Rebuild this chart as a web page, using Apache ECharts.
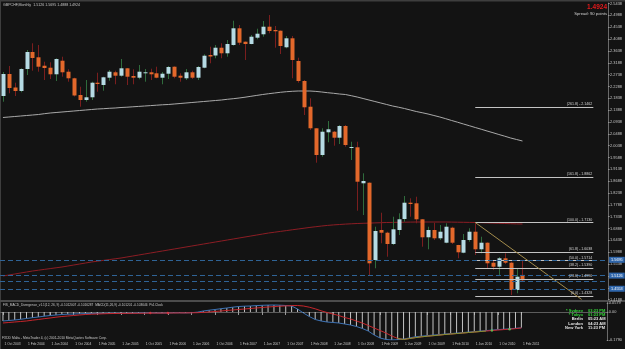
<!DOCTYPE html>
<html>
<head>
<meta charset="utf-8">
<title>GBPCHF,Monthly</title>
<script src="https://cdn.jsdelivr.net/npm/echarts@6/dist/echarts.min.js"></script>
<style>
  html, body { margin: 0; padding: 0; background: #131313; }
  #main { width: 625px; height: 349px; }
</style>
</head>
<body>
<div id="main"></div>
<script type="text/javascript">
// monthly bars, first bar = 1 Oct 2003, empty slots after the last bar (chart shift)
var monthNames = ['Jan', 'Feb', 'Mar', 'Apr', 'May', 'Jun', 'Jul', 'Aug', 'Sep', 'Oct', 'Nov', 'Dec'];
var slotCount = 103;
var categories = [];
for (var k = 0; k < slotCount; k++) {
    var m = 9 + k;
    categories.push('1 ' + monthNames[m % 12] + ' ' + (2003 + Math.floor(m / 12)));
}

// open, high, low, close
var ohlc = [
    [2.1925, 2.2837, 2.1708, 2.2761], [2.2761, 2.3065, 2.2028, 2.2229], [2.2248, 2.2430, 2.1925, 2.2115],
    [2.2115, 2.2978, 2.2066, 2.2951], [2.2951, 2.3673, 2.2723, 2.3597], [2.3597, 2.3928, 2.2886, 2.3369],
    [2.3396, 2.3863, 2.2848, 2.3038], [2.3076, 2.3228, 2.2533, 2.2989], [2.3000, 2.3206, 2.2571, 2.2750],
    [2.2750, 2.3358, 2.2495, 2.3331], [2.3266, 2.3418, 2.2658, 2.2826], [2.2848, 2.2940, 2.2468, 2.2598],
    [2.2598, 2.2620, 2.1906, 2.1944], [2.1963, 2.2278, 2.1518, 2.1773], [2.1773, 2.2533, 2.1708, 2.1876],
    [2.1876, 2.2468, 2.1773, 2.2430], [2.2430, 2.2810, 2.2088, 2.2381], [2.2343, 2.2658, 2.2126, 2.2636],
    [2.2620, 2.2913, 2.2506, 2.2848], [2.2826, 2.2886, 2.2370, 2.2696], [2.2696, 2.3331, 2.2658, 2.2978],
    [2.2978, 2.2989, 2.2343, 2.2658], [2.2685, 2.2940, 2.2370, 2.2620], [2.2620, 2.3103, 2.2560, 2.2848],
    [2.2788, 2.2951, 2.2468, 2.2826], [2.2826, 2.2962, 2.2533, 2.2750], [2.2788, 2.3038, 2.2598, 2.2620],
    [2.2620, 2.2837, 2.2370, 2.2772], [2.2772, 2.3065, 2.2571, 2.3027], [2.3038, 2.3050, 2.2598, 2.2658],
    [2.2696, 2.2788, 2.2468, 2.2620], [2.2598, 2.2951, 2.2533, 2.2826], [2.2826, 2.2886, 2.2571, 2.2620],
    [2.2620, 2.3065, 2.2533, 2.3027], [2.3000, 2.3510, 2.2978, 2.3456], [2.3483, 2.3798, 2.3168, 2.3426],
    [2.3464, 2.3863, 2.3358, 2.3760], [2.3760, 2.3928, 2.3358, 2.3548], [2.3548, 2.4053, 2.3418, 2.3901],
    [2.3863, 2.4786, 2.3836, 2.4498], [2.4498, 2.4623, 2.3863, 2.3950], [2.3988, 2.3996, 2.3293, 2.3901],
    [2.3901, 2.4243, 2.3890, 2.4178], [2.4140, 2.4482, 2.4080, 2.4292], [2.4270, 2.4775, 2.4178, 2.4558],
    [2.4558, 2.5003, 2.4308, 2.4395], [2.4433, 2.4585, 2.3760, 2.4384], [2.4406, 2.4415, 2.3521, 2.3825],
    [2.3776, 2.4205, 2.3738, 2.4118], [2.4118, 2.4205, 2.2598, 2.3293], [2.3255, 2.3380, 2.2430, 2.2495],
    [2.2495, 2.2533, 2.1203, 2.1496], [2.1518, 2.1838, 2.0633, 2.0698], [2.0698, 2.0705, 1.9390, 1.9683],
    [1.9683, 2.0698, 1.9618, 2.0568], [2.0546, 2.0975, 2.0166, 2.0660], [2.0568, 2.0595, 2.0036, 2.0340],
    [2.0340, 2.0823, 2.0101, 2.0785], [2.0785, 2.0823, 1.9998, 2.0063], [1.9960, 2.0188, 1.9493, 1.9987],
    [1.9976, 2.0188, 1.7566, 1.8668], [1.8608, 1.8988, 1.7403, 1.8695], [1.8630, 1.8640, 1.5123, 1.5568],
    [1.5693, 1.6958, 1.5378, 1.6795], [1.6833, 1.7490, 1.6328, 1.6730], [1.6730, 1.6768, 1.5818, 1.6301],
    [1.6301, 1.7338, 1.6263, 1.6860], [1.6833, 1.7468, 1.6643, 1.7240], [1.7251, 1.8125, 1.7148, 1.7870],
    [1.7870, 1.8038, 1.7338, 1.7821], [1.7848, 1.8098, 1.7088, 1.7240], [1.7240, 1.7251, 1.6198, 1.6556],
    [1.6556, 1.6958, 1.6100, 1.6833], [1.6833, 1.7110, 1.6453, 1.6518], [1.6518, 1.7023, 1.6453, 1.6768],
    [1.6350, 1.7088, 1.6328, 1.6958], [1.6920, 1.6958, 1.6301, 1.6350], [1.6263, 1.6270, 1.5758, 1.5986],
    [1.5970, 1.6681, 1.5948, 1.6453], [1.6453, 1.6898, 1.6388, 1.6768], [1.6768, 1.7088, 1.5883, 1.6100],
    [1.6100, 1.6578, 1.5948, 1.6350], [1.6350, 1.6360, 1.5389, 1.5568], [1.5590, 1.5693, 1.5313, 1.5438],
    [1.5438, 1.5807, 1.5085, 1.5758], [1.5758, 1.5948, 1.5541, 1.5590], [1.5590, 1.5628, 1.4363, 1.4553],
    [1.4553, 1.5378, 1.4428, 1.5058], [1.5126, 1.5695, 1.4888, 1.4924]
];

// moving averages
var maGrey = [
    2.1108, 2.1127, 2.1146, 2.1165, 2.1184, 2.1203, 2.1222, 2.1252, 2.1279, 2.1298,
    2.1317, 2.1336, 2.1355, 2.1374, 2.1393, 2.1412, 2.1431, 2.1442, 2.1458, 2.1469,
    2.1488, 2.1499, 2.1515, 2.1530, 2.1545, 2.1560, 2.1575, 2.1591, 2.1602, 2.1621,
    2.1640, 2.1659, 2.1678, 2.1697, 2.1716, 2.1735, 2.1754, 2.1773, 2.1800, 2.1822,
    2.1849, 2.1879, 2.1914, 2.1948, 2.1982, 2.2012, 2.2039, 2.2066, 2.2088, 2.2104,
    2.2115, 2.2115, 2.2115, 2.2100, 2.2077, 2.2050, 2.2028, 2.2001, 2.1982, 2.1936,
    2.1887, 2.1830, 2.1773, 2.1716, 2.1659, 2.1602, 2.1545, 2.1499, 2.1450, 2.1393,
    2.1336, 2.1290, 2.1241, 2.1184, 2.1127, 2.1062, 2.0994, 2.0929, 2.0861, 2.0796,
    2.0728, 2.0663, 2.0595, 2.0530, 2.0462, 2.0397, 2.0329, 2.0272, 2.0215
];
var maRed = [
    1.5085, 1.5123, 1.5161, 1.5199, 1.5237, 1.5275, 1.5305, 1.5336, 1.5366, 1.5397,
    1.5427, 1.5465, 1.5503, 1.5541, 1.5579, 1.5617, 1.5647, 1.5678, 1.5708, 1.5739,
    1.5769, 1.5807, 1.5845, 1.5883, 1.5921, 1.5959, 1.5997, 1.6035, 1.6073, 1.6111,
    1.6149, 1.6187, 1.6225, 1.6263, 1.6301, 1.6339, 1.6377, 1.6415, 1.6453, 1.6491,
    1.6529, 1.6567, 1.6605, 1.6643, 1.6681, 1.6719, 1.6749, 1.6780, 1.6810, 1.6841,
    1.6871, 1.6901, 1.6932, 1.6958, 1.6985, 1.7008, 1.7027, 1.7042, 1.7057, 1.7069,
    1.7080, 1.7088, 1.7095, 1.7103, 1.7110, 1.7118, 1.7122, 1.7126, 1.7129, 1.7133,
    1.7137, 1.7137, 1.7137, 1.7137, 1.7137, 1.7137, 1.7133, 1.7129, 1.7126, 1.7122,
    1.7118, 1.7110, 1.7103, 1.7095, 1.7088, 1.7080, 1.7072, 1.7065, 1.7061
];

// MACD sub window
var macdMain = [
    -0.0575, -0.0543, -0.0511, -0.0466, -0.0415, -0.0364, -0.0320, -0.0268, -0.0224, -0.0192,
    -0.0160, -0.0141, -0.0128, -0.0115, -0.0102, -0.0096, -0.0089, -0.0083, -0.0077, -0.0077,
    -0.0083, -0.0083, -0.0077, -0.0064, -0.0058, -0.0058, -0.0064, -0.0070, -0.0064, -0.0051,
    -0.0051, -0.0058, -0.0045, -0.0013, 0.0064, 0.0115, 0.0160, 0.0211, 0.0256, 0.0307,
    0.0351, 0.0371, 0.0383, 0.0409, 0.0428, 0.0441, 0.0447, 0.0435, 0.0415, 0.0383,
    0.0192, -0.0064, -0.0288, -0.0479, -0.0575, -0.0639, -0.0671, -0.0703, -0.0767, -0.0831,
    -0.0927, -0.1054, -0.1214, -0.1470, -0.1661, -0.1757, -0.1789, -0.1770, -0.1725, -0.1661,
    -0.1585, -0.1546, -0.1508, -0.1476, -0.1444, -0.1412, -0.1380, -0.1348, -0.1316, -0.1284,
    -0.1252, -0.1220, -0.1189, -0.1157, -0.1125, -0.1099, -0.1074, -0.1042, -0.1012
];
var macdSignal = [
    -0.0703, -0.0671, -0.0639, -0.0607, -0.0575, -0.0524, -0.0479, -0.0428, -0.0383, -0.0332,
    -0.0288, -0.0256, -0.0224, -0.0192, -0.0160, -0.0141, -0.0128, -0.0115, -0.0102, -0.0096,
    -0.0089, -0.0089, -0.0083, -0.0083, -0.0077, -0.0070, -0.0070, -0.0070, -0.0064, -0.0064,
    -0.0058, -0.0058, -0.0051, -0.0045, -0.0026, 0.0000, 0.0032, 0.0064, 0.0096, 0.0128,
    0.0160, 0.0192, 0.0224, 0.0256, 0.0288, 0.0320, 0.0345, 0.0371, 0.0390, 0.0409,
    0.0415, 0.0383, 0.0307, 0.0204, 0.0077, -0.0032, -0.0128, -0.0224, -0.0351, -0.0447,
    -0.0575, -0.0703, -0.0863, -0.1022, -0.1182, -0.1342, -0.1534, -0.1693, -0.1757, -0.1700,
    -0.1640, -0.1590, -0.1550, -0.1515, -0.1480, -0.1440, -0.1410, -0.1378, -0.1346, -0.1313,
    -0.1281, -0.1249, -0.1217, -0.1185, -0.1153, -0.1125, -0.1098, -0.1066, -0.1016
];
var divergenceFrom = 67, divergenceTo = 82;
var redMarks = [25, 28];
var greenMarks = [83, 86];

// axis labels
var priceTicks = [1.4188, 1.4638, 1.5088, 1.5538, 1.5988, 1.6438, 1.6888, 1.7338, 1.7788, 1.8238,
    1.8688, 1.9138, 1.9588, 2.0038, 2.0488, 2.0938, 2.1388, 2.1838, 2.2288, 2.2738,
    2.3188, 2.3638, 2.4088, 2.4538, 2.4988, 2.5438];
var macdTicks = [-0.179, 0, 0.0579];

// fibonacci levels
var fibPrices = [1.4325, 1.4971, 1.5378, 1.5666, 1.5986, 1.7118, 1.8847, 2.1507];
var fibLabels = ['(0.0) - 1.4328', '(23.6) - 1.4990', '(38.2) - 1.5390', '(50.0) - 1.5714',
    '(61.8) - 1.6038', '(100.0) - 1.7130', '(161.8) - 1.8862', '(261.8) - 2.1462'];
var fibFrom = 80, fibTo = 100;
var trendFrom = [80, 1.7118], trendTo = [98, 1.4196];

var levelPrices = [1.5695, 1.5126, 1.4888, 1.4553];
var levelBoxes = [true, true, false, true];
var lastPrice = 1.4924;

var titleText = 'GBPCHF,Monthly  1.5126 1.5695 1.4888 1.4924';
var macdText = 'FIS_MACD_Divergence_v1.1(12, 26, 9) -0.1012007 -0.1016287  MACD(11,26,9) -0.101201 -0.103646  Pt4.Clock';
var brokerText = 'FXDD Malta - MetaTrader 4, (c) 2001-2010 MetaQuotes Software Corp.';
var clockNames = ['* Sydney', '* Tokyo', 'Berlin', 'London', 'New York'];
var clockTimes = ['03:23 PM', '01:23 PM', '05:23 AM', '04:23 AM', '11:23 PM'];
var clockGreen = [true, true, false, false, false];

var FONT = 'Liberation Sans, Arial, sans-serif';
var myChart = echarts.init(document.getElementById('main'));

function renderCandle(params, api) {
    var i = api.value(0);
    var o = api.value(1), h = api.value(2), l = api.value(3), c = api.value(4);
    var up = c >= o;
    var top = api.coord([i, Math.max(o, c)]);
    var bot = api.coord([i, Math.min(o, c)]);
    var hi = api.coord([i, h]);
    var lo = api.coord([i, l]);
    var x = Math.round(top[0]);
    var bh = Math.max(1, bot[1] - top[1]);
    return {
        type: 'group',
        children: [
            { type: 'line', shape: { x1: x + 0.5, y1: hi[1], x2: x + 0.5, y2: lo[1] },
              style: { stroke: up ? '#2f6b3c' : '#7a1e1e', lineWidth: 1 } },
            { type: 'rect', shape: { x: x - 1.5, y: top[1], width: 4, height: bh },
              style: { fill: up ? '#b6dbe4' : '#e3682b' } }
        ]
    };
}

var candleData = ohlc.map(function (r, i) { return [i, r[0], r[1], r[2], r[3]]; });

var markData = [];
fibPrices.forEach(function (p, j) {
    markData.push([
        { coord: [categories[fibFrom], p],
          lineStyle: { color: '#c4c4c4', width: 1, type: 'solid' },
          label: { show: true, position: 'insideEndTop', formatter: fibLabels[j], color: '#d4d4d4',
                   fontSize: 3.6, fontFamily: FONT, distance: 1 } },
        { coord: [categories[fibTo], p] }
    ]);
});
markData.push([
    { coord: [categories[trendFrom[0]], trendFrom[1]], lineStyle: { color: '#a38c4c', width: 1, type: 'solid' },
      label: { show: false } },
    { coord: [categories[trendTo[0]], trendTo[1]] }
]);
levelPrices.forEach(function (p, j) {
    markData.push({
        yAxis: p,
        lineStyle: { color: '#2f6396', width: 1, type: [5, 3] },
        label: { show: levelBoxes[j], position: 'end', formatter: p.toFixed(4), distance: 1,
                 backgroundColor: '#2f66ab', color: '#ffffff', fontSize: 3.8, fontFamily: FONT, padding: [1, 2] }
    });
});
markData.push({
    yAxis: lastPrice,
    lineStyle: { opacity: 0 },
    label: { show: true, position: 'end', formatter: lastPrice.toFixed(4), distance: 1,
             backgroundColor: '#ffffff', color: '#000000', fontSize: 3.8, fontFamily: FONT, padding: [1, 2] }
});

var graphics = [
    { type: 'rect', shape: { x: 0, y: 0, width: 625, height: 1.5 }, style: { fill: '#3e3e3e' }, silent: true },
    { type: 'rect', shape: { x: 0, y: 0, width: 1, height: 349 }, style: { fill: '#3e3e3e' }, silent: true },
    { type: 'rect', shape: { x: 0, y: 300, width: 625, height: 2 }, style: { fill: '#4c4c4c' }, silent: true },
    { type: 'text', x: 3, y: 4.5, silent: true,
      style: { text: titleText, fill: '#c8c8c8', fontSize: 3.6, fontFamily: FONT, verticalAlign: 'middle', textVerticalAlign: 'middle' } },
    { type: 'text', x: 607, y: 7.5, silent: true,
      style: { text: '1.4924', fill: '#e3191b', fontSize: 6.5, fontWeight: 'bold', fontFamily: FONT,
               align: 'right', textAlign: 'right', verticalAlign: 'middle', textVerticalAlign: 'middle' } },
    { type: 'text', x: 607, y: 14, silent: true,
      style: { text: 'Spread: 90 points', fill: '#d0d0d0', fontSize: 4.2, fontFamily: FONT,
               align: 'right', textAlign: 'right', verticalAlign: 'middle', textVerticalAlign: 'middle' } },
    { type: 'text', x: 3, y: 305.5, silent: true,
      style: { text: macdText, fill: '#c8c8c8', fontSize: 3.2, fontFamily: FONT, verticalAlign: 'middle', textVerticalAlign: 'middle' } },
    { type: 'text', x: 2, y: 338.5, silent: true,
      style: { text: brokerText, fill: '#c8c8c8', fontSize: 3.3, fontFamily: FONT, verticalAlign: 'middle', textVerticalAlign: 'middle' } }
];
var clockY = [310.7, 315, 319.3, 323.7, 328];
clockNames.forEach(function (n, j) {
    var col = clockGreen[j] ? '#35d63a' : '#e6e6e6';
    graphics.push({ type: 'text', x: 583, y: clockY[j], silent: true,
        style: { text: n, fill: col, fontSize: 4, fontWeight: 'bold', fontFamily: FONT,
                 align: 'right', textAlign: 'right', verticalAlign: 'middle', textVerticalAlign: 'middle' } });
    graphics.push({ type: 'text', x: 588, y: clockY[j], silent: true,
        style: { text: clockTimes[j], fill: col, fontSize: 4, fontWeight: 'bold', fontFamily: FONT,
                 verticalAlign: 'middle', textVerticalAlign: 'middle' } });
});

function timeLabelShown(index) { return index % 4 === 0 && index < ohlc.length; }

var option = {
    backgroundColor: '#131313',
    animation: false,
    textStyle: { fontFamily: FONT },
    grid: [
        { left: -1, top: 3, width: 614, height: 297 },
        { left: -1, top: 302, width: 614, height: 38 }
    ],
    xAxis: [
        { type: 'category', gridIndex: 0, data: categories,
          axisLine: { show: false }, axisTick: { show: false }, axisLabel: { show: false }, splitLine: { show: false } },
        { type: 'category', gridIndex: 1, data: categories,
          axisLine: { show: true, lineStyle: { color: '#5c5c5c' } },
          axisTick: { show: true, alignWithLabel: true, interval: timeLabelShown, length: 3, lineStyle: { color: '#9a9a9a' } },
          axisLabel: { interval: timeLabelShown, align: 'left', margin: 2.5, fontSize: 3.3, color: '#c8c8c8', padding: [0, 0, 0, 1.5] },
          splitLine: { show: false } }
    ],
    yAxis: [
        { type: 'value', gridIndex: 0, position: 'right', min: 1.4173, max: 2.5459, scale: true,
          splitLine: { show: false },
          axisLine: { show: true, lineStyle: { color: '#6a6a6a' } },
          axisTick: { show: true, customValues: priceTicks, length: 1.5, lineStyle: { color: '#9a9a9a' } },
          axisLabel: { customValues: priceTicks, margin: 2, fontSize: 3.9, color: '#c8c8c8',
                       formatter: function (v) { return v.toFixed(4); } } },
        { type: 'value', gridIndex: 1, position: 'right', min: -0.179, max: 0.0639, scale: true,
          splitLine: { show: false },
          axisLine: { show: true, lineStyle: { color: '#6a6a6a' } },
          axisTick: { show: true, customValues: macdTicks, length: 1.5, lineStyle: { color: '#9a9a9a' } },
          axisLabel: { customValues: macdTicks, margin: 2, fontSize: 3.9, color: '#c8c8c8',
                       formatter: function (v) { return v === 0 ? '0.00' : v.toFixed(4); } } }
    ],
    graphic: graphics,
    series: [
        { name: 'MA grey', type: 'line', xAxisIndex: 0, yAxisIndex: 0, data: maGrey, symbol: 'none', silent: true,
          lineStyle: { color: '#a9a9a9', width: 1 }, z: 2 },
        { name: 'MA red', type: 'line', xAxisIndex: 0, yAxisIndex: 0, data: maRed, symbol: 'none', silent: true,
          lineStyle: { color: '#8c1d24', width: 1 }, z: 2,
          markLine: { silent: true, symbol: ['none', 'none'], animation: false, data: markData } },
        { name: 'GBPCHF', type: 'custom', xAxisIndex: 0, yAxisIndex: 0, data: candleData,
          renderItem: renderCandle, encode: { x: 0, y: [1, 2, 3, 4] }, clip: true, silent: true, z: 3 },
        { name: 'MACD hist', type: 'bar', xAxisIndex: 1, yAxisIndex: 1, data: macdMain, barWidth: 1, silent: true,
          itemStyle: { color: '#c4c4c4' } },
        { name: 'MACD', type: 'line', xAxisIndex: 1, yAxisIndex: 1, data: macdMain, symbol: 'none', silent: true,
          lineStyle: { color: '#3d72b4', width: 1 }, z: 3 },
        { name: 'Signal', type: 'line', xAxisIndex: 1, yAxisIndex: 1, data: macdSignal, symbol: 'none', silent: true,
          lineStyle: { color: '#c6262c', width: 1 }, z: 3 },
        { name: 'Divergence', type: 'line', xAxisIndex: 1, yAxisIndex: 1, symbol: 'none', silent: true,
          data: macdSignal.map(function (v, i) { return i >= divergenceFrom && i <= divergenceTo ? v : null; }),
          lineStyle: { color: '#7d9634', width: 1 }, z: 4 },
        { name: 'marks red', type: 'scatter', xAxisIndex: 1, yAxisIndex: 1, symbol: 'diamond', symbolSize: 3, silent: true,
          data: redMarks.map(function (i) { return [i, macdSignal[i]]; }), itemStyle: { color: '#e0303a' }, z: 5 },
        { name: 'marks green', type: 'scatter', xAxisIndex: 1, yAxisIndex: 1, symbol: 'circle', symbolSize: 2.5, silent: true,
          data: greenMarks.map(function (i) { return [i, macdSignal[i]]; }), itemStyle: { color: '#5fd35a' }, z: 5 }
    ]
};

myChart.setOption(option);
</script>
</body>
</html>
